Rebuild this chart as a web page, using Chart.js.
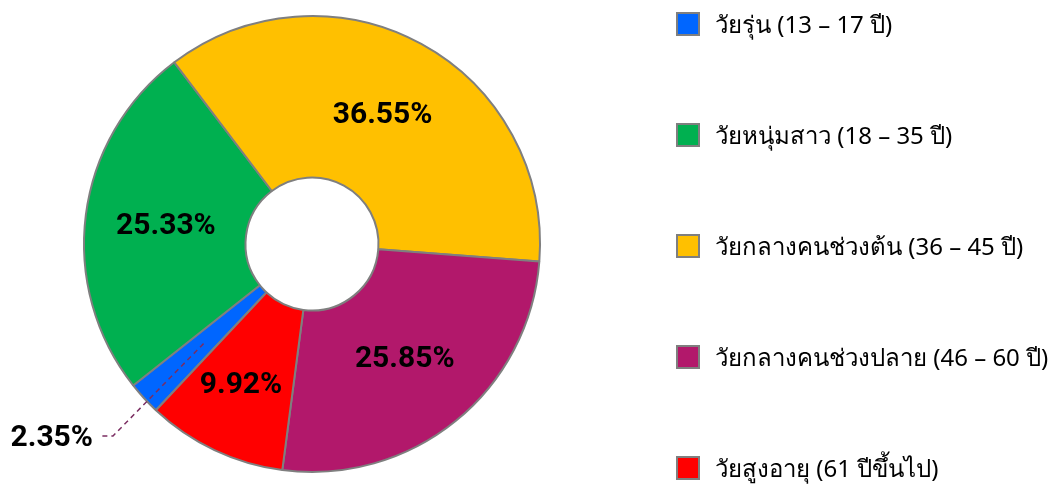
<!DOCTYPE html>
<html>
<head>
<meta charset="utf-8">
<script src="https://cdn.jsdelivr.net/npm/chart.js@4/dist/chart.umd.min.js"></script>
<style>
  html, body { margin: 0; padding: 0; background: #fff; }
  #wrap { position: relative; width: 1056px; height: 485px; }
  #legend { position: absolute; left: 676px; top: 0; margin: 0; padding: 0; list-style: none;
            font-family: Tahoma, "Noto Sans", "DejaVu Sans", sans-serif; font-size: 24px; color: #000; }
  #legend li { position: absolute; left: 0; white-space: nowrap; display: flex; align-items: center; }
  #legend span.box { display: inline-block; width: 20px; height: 20px; border: 2px solid #7f7f7f;
                     box-sizing: content-box; margin-right: 15px; }
</style>
</head>
<body>
<div id="wrap">
  <canvas id="grafico" width="1056" height="485"></canvas>
  <ul id="legend"></ul>
</div>
<script>
// datos del gráfico
const categorias = ['วัยรุ่น (13 – 17 ปี)', 'วัยหนุ่มสาว (18 – 35 ปี)', 'วัยกลางคนช่วงต้น (36 – 45 ปี)',
                    'วัยกลางคนช่วงปลาย (46 – 60 ปี)', 'วัยสูงอายุ (61 ปีขึ้นไป)'];
const porcentajes = [2.35, 25.33, 36.55, 25.85, 9.92];
const colores = ['#0066FF', '#00B050', '#FFC000', '#B2186B', '#FF0000'];

// etiquetas de porcentaje sobre cada segmento
const etiquetasPlugin = {
  id: 'etiquetas',
  afterDatasetsDraw(chart) {
    const ctx = chart.ctx;
    const meta = chart.getDatasetMeta(0);
    ctx.save();
    ctx.font = 'bold 30px Roboto, "DejaVu Sans Condensed", sans-serif';
    ctx.fillStyle = '#000';
    ctx.textBaseline = 'middle';
    meta.data.forEach((arc, i) => {
      const pos = arc.tooltipPosition();
      const txt = porcentajes[i].toFixed(2) + '%';
      if (i === 0) {
        // segmento pequeño: etiqueta afuera con línea guía
        ctx.strokeStyle = '#7B2E62';
        ctx.lineWidth = 1.5;
        ctx.setLineDash([5, 4]);
        ctx.beginPath();
        ctx.moveTo(pos.x, pos.y);
        ctx.lineTo(113, 436);
        ctx.lineTo(100, 436);
        ctx.stroke();
        ctx.setLineDash([]);
        ctx.textAlign = 'right';
        ctx.fillText(txt, 93, 438);
      } else if (i === 4) {
        // el rojo va un poco más afuera en el original
        ctx.textAlign = 'center';
        ctx.fillText(txt, pos.x - 8, pos.y + 8);
      } else {
        ctx.textAlign = 'center';
        ctx.fillText(txt, pos.x, pos.y + 1);
      }
    });
    ctx.restore();
  }
};

new Chart(document.getElementById('grafico'), {
  type: 'doughnut',
  data: {
    labels: categorias,
    datasets: [{
      data: porcentajes,
      backgroundColor: colores,
      borderColor: '#7f7f7f',
      borderWidth: 2,
      borderAlign: 'center'
    }]
  },
  options: {
    responsive: false,
    animation: false,
    rotation: 223.2,
    radius: 228,
    cutout: 70,
    layout: { padding: { left: 0, right: 432, top: 3, bottom: 0 } },
    plugins: { legend: { display: false }, tooltip: { enabled: false } }
  },
  plugins: [etiquetasPlugin]
});

// leyenda en HTML
const leyenda = document.getElementById('legend');
const centrosY = [24, 135, 246, 357, 468];
categorias.forEach((cat, i) => {
  const li = document.createElement('li');
  li.style.top = (centrosY[i] - 15) + 'px';
  li.style.height = '30px';
  li.innerHTML = `<span class="box" style="background:${colores[i]}"></span><span>${cat}</span>`;
  leyenda.appendChild(li);
});
</script>
</body>
</html>
